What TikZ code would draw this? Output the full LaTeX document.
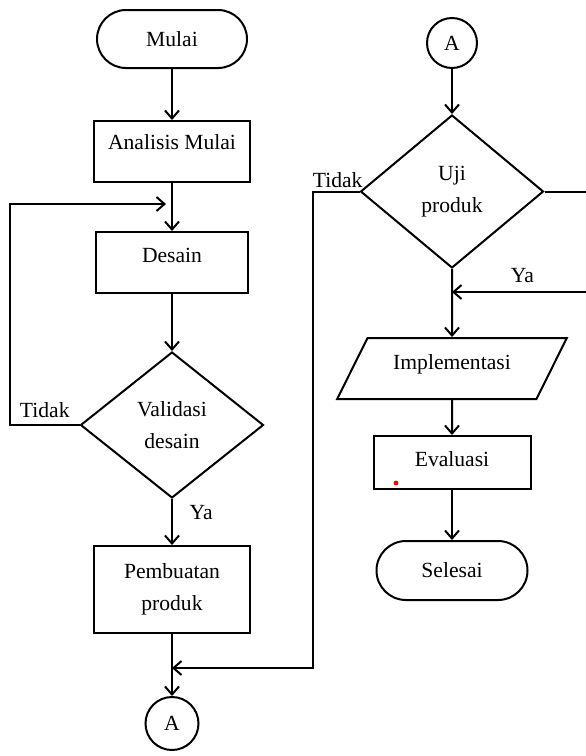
\documentclass[tikz,border=0pt]{standalone}
\usepackage{fontspec}
\setmainfont{Liberation Serif}
\usepackage{tikz}
\usetikzlibrary{shapes.geometric, arrows.meta, positioning}
\tikzstyle{procnode} = [%
  rectangle,
  draw=black,
  line width=1pt,
  minimum width=78pt,
  minimum height=30.5pt,
  align=center,
  inner sep=0pt
]
\tikzstyle{termnode} = [%
  rectangle,
  rounded corners=14.5pt,
  draw=black,
  line width=1pt,
  minimum width=75pt,
  minimum height=29pt,
  inner sep=0pt
]
\tikzstyle{decnode} = [%
  diamond,
  draw=black,
  line width=1pt,
  minimum width=91.5pt,
  minimum height=73pt,
  align=center,
  inner sep=0pt
]
\tikzstyle{ionode} = [%
  trapezium,
  trapezium left angle=53,
  trapezium right angle=127,
  trapezium stretches=true,
  draw=black,
  line width=1pt,
  minimum width=115pt,
  minimum height=30.5pt,
  inner sep=0pt
]
\tikzstyle{connode} = [%
  circle,
  draw=black,
  line width=1pt,
  minimum size=25pt,
  inner sep=0pt
]

\begin{document}
\begin{tikzpicture}[%
  x=0.5pt, y=-0.5pt,
  flow/.style={%
    -{Straight Barb[length=4pt,width=7pt]},
    line width=1pt
  },
  every node/.style={%
    font=\fontsize{10.8}{16}\selectfont,
    text=black
  }
]
  \useasboundingbox (0,0) rectangle (585,756);

  % Nodes
  \node[termnode] (L1) at (172,39) {Mulai};
  \node[procnode,below=25.5pt of L1,text height=7.5pt,text depth=9.5pt] (L2) {Analisis Mulai};
  \node[procnode,minimum width=76pt,below=24pt of L2,text height=7.5pt,text depth=7.5pt] (L3) {Desain};
  \node[decnode,below=28.5pt of L3] (L4) {Validasi\\desain};
  \node[procnode,minimum height=43.5pt,below=23pt of L4] (L5) {Pembuatan\\produk};
  \node[connode,minimum size=26.5pt,below=31pt of L5] (L6) {A};

  \node[connode] (R1) at (452,43) {A};
  \node[decnode,minimum height=76.5pt,below=22.5pt of R1] (R2) {Uji\\produk};
  \node[ionode,below=34pt of R2,text height=7.5pt,text depth=6.5pt] (R3) {Implementasi};
  \node[procnode,minimum width=78.5pt,minimum height=26.5pt,below=17.5pt of R3,text height=7.5pt,text depth=3.5pt] (R4) {Evaluasi};
  \node[termnode,minimum width=75.5pt,minimum height=29.5pt,rounded corners=14.75pt,below=25pt of R4] (R5) {Selesai};

  % Loop corners
  \coordinate (D1) at (10,204);
  \coordinate (D2) at ([xshift=-3pt]L3.north |- D1);
  \coordinate (U1) at (313,668);
  \coordinate (U2) at (L5.south |- U1);
  \coordinate (Y1) at (590,292);
  \coordinate (Y2) at (R2.south |- Y1);

  % Main flow
  \draw[flow] (L1) -- (L2);
  \draw[flow] (L2) -- (L3);
  \draw[flow] (L3) -- (L4);
  \draw[flow] (L4) -- node[pos=0.3,right,xshift=5pt] (ya1) {Ya} (L5);
  \draw[flow] (L5) -- (L6);
  \draw[flow] (R1) -- (R2);
  \draw[flow] (R2) -- (R3);
  \draw[flow] (R3) -- (R4);
  \draw[flow] (R4) -- (R5);

  % Loop edges
  \draw[flow] (L4.west) -| node[pos=0.25,above] (td1) {Tidak} (D1) -- (D2);
  \draw[flow] (R2.west) -| node[pos=0.235,above,yshift=-2pt] (td2) {Tidak} (U1) -- (U2);
  \draw[flow] (R2.east) -| (Y1) -- node[pos=0.49,above,yshift=1pt] (ya2) {Ya} (Y2);

  \fill[red] (396,483) circle (1.2pt);

\end{tikzpicture}
\end{document}
